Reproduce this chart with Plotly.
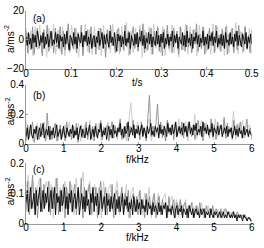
import numpy as np
import plotly.graph_objects as go

# ---------------- data ----------------
a_light = [8,-10,6,-11,9,-7,10,-9,5,-12,8,-6,11,-10,7,-8,9,-11,6,-9,
           10,-7,8,-12,5,-9,11,-8,7,-10,9,-6,8,-11,10,-8,6,-9,11,-7,
           7,-10,9,-8,12,-11,6,-9,8,-7,10,-12,7,-8,9,-10,11,-6,8,-9,
           9,-11,7,-8,10,-9,6,-12,8,-7,11,-10,9,-8,7,-11,10,-6,8,-9,
           6,-10,11,-8,9,-7,8,-11,10,-9,7,-8,12,-10,6,-9,9,-7,8,-10]
a_gray = [6,-9,4,-7,9,-10,3,8,-6,1,-11,7,-4,10,-8,2,5,-9,8,-5,
          -3,9,-10,6,-7,4,11,-8,1,-6,8,-9,5,-4,10,-11,3,-2,7,-9,
          9,-5,2,-10,6,-7,8,-3,4,-12,7,-6,10,-4,1,-9,5,8,-8,3,
          -7,10,-5,6,-10,2,9,-6,4,-8,7,-3,11,-9,5,-7,3,8,-10,6,
          -4,9,-8,2,-11,7,-5,10,-6,4,-9,8,-2,6,-10,9,-7,3,-8,10,
          -5,5,-9,7,-3,11,-8,4,-6,9,-10,2,-7,8,-4,6,-9,10,-6,3,
          -8,7,-5,9,-10,4,-3,8,-9,6,-7,10,-4,5,-8,9,-6,3,-9,7]
a_black = [2,-4,5,-3,1,-6,4,-2,3,-5,6,-1,-4,3,-2,5,-6,2,-3,4,
           -5,1,6,-4,0,-3,5,-2,4,-6,3,-1,2,-5,4,-3,6,-2,-7,3,
           1,-4,5,-3,2,-6,4,0,-2,5,-5,3,-1,6,-4,2,-3,4,-6,1,
           3,-5,2,-2,6,-4,0,5,-6,3,-3,4,-1,-5,6,-2,2,-4,5,-3,
           -8,4,-1,3,-5,2,-3,6,-4,1,-2,5,-6,3,0,-4,4,-3,5,-5,
           2,-1,6,-4,3,-6,1,-2,5,-3,4,-5,2,-1,-4,6,-3,3,-5,4,
           -2,5,-6,1,-3,4,-4,2,-1,6,-5,3,-2,4,-6,2,0,-3,5,-4,
           3,-5,6,-2,1,-4,4,-6,2,-1,5,-3,3,-5,1,-2,6,-4,2,-3,
           4,-6,3,-1,5,-4,2,-2,6,-5,1,-3,4,-4,3,-6,5,-2,0,-4,
           5,-3,2,-5,4,-1,6,-4,3,-2,-5,4,1,-3,5,-6,2,-2,4,-3]

b_light = [0.16,0.05,0.13,0.02,0.11,0.14,0.04,0.09,0.15,0.03,0.12,0.06,0.10,0.14,0.02,0.11,0.05,0.13,0.08,0.15,
           0.03,0.12,0.06,0.14,0.02,0.10,0.13,0.05,0.16,0.03,0.11,0.07,0.14,0.02,0.12,0.09,0.15,0.04,0.11,0.13,
           0.03,0.16,0.06,0.12,0.02,0.14,0.28,0.05,0.11,0.15,0.03,0.13,0.07,0.10,0.17,0.02,0.12,0.05,0.15,0.08,
           0.13,0.03,0.16,0.06,0.11,0.14,0.04,0.17,0.05,0.12,0.15,0.02,0.13,0.08,0.20,0.04,0.11,0.16,0.05,0.14,
           0.07,0.12,0.03,0.17,0.05,0.13,0.09,0.15,0.04,0.12,0.06,0.22,0.03,0.14,0.08,0.16,0.04,0.11,0.13,0.05]
b_gray = [0.02,0.13,0.04,0.10,0.15,0.01,0.09,0.12,0.03,0.14,0.06,0.11,0.02,0.21,0.05,0.12,0.03,0.10,0.14,0.02,
          0.08,0.13,0.04,0.11,0.02,0.15,0.06,0.09,0.03,0.12,0.05,0.14,0.01,0.10,0.13,0.04,0.08,0.15,0.03,0.11,
          0.06,0.12,0.02,0.14,0.05,0.09,0.16,0.03,0.11,0.07,0.13,0.02,0.10,0.15,0.04,0.12,0.06,0.09,0.17,0.03,
          0.11,0.05,0.14,0.02,0.12,0.08,0.16,0.04,0.10,0.13,0.03,0.15,0.06,0.11,0.02,0.18,0.33,0.05,0.12,0.09,
          0.14,0.27,0.06,0.15,0.04,0.12,0.02,0.16,0.07,0.10,0.13,0.03,0.14,0.05,0.11,0.08,0.15,0.04,0.12,0.06,
          0.15,0.09,0.05,0.13,0.03,0.10,0.16,0.06,0.12,0.02,0.14,0.08,0.11,0.04,0.17,0.06,0.13,0.03,0.15,0.09,
          0.12,0.05,0.18,0.04,0.14,0.07,0.11,0.03,0.16,0.06,0.13,0.09,0.15,0.04,0.12,0.08,0.17,0.05,0.11,0.03]
b_black = [0.05,0.11,0.03,0.09,0.13,0.06,0.04,0.10,0.07,0.12,0.03,0.08,0.11,0.05,0.09,0.14,0.04,0.07,0.10,0.06,
           0.12,0.03,0.09,0.06,0.11,0.04,0.08,0.13,0.05,0.07,0.10,0.03,0.09,0.12,0.06,0.04,0.11,0.08,0.05,0.10,
           0.07,0.13,0.04,0.09,0.06,0.11,0.03,0.08,0.12,0.05,0.10,0.07,0.04,0.11,0.06,0.09,0.13,0.03,0.08,0.10,
           0.05,0.12,0.07,0.04,0.10,0.08,0.14,0.05,0.09,0.06,0.11,0.03,0.08,0.12,0.06,0.10,0.04,0.13,0.07,0.09,
           0.05,0.11,0.08,0.14,0.06,0.10,0.04,0.12,0.07,0.09,0.15,0.05,0.08,0.11,0.06,0.13,0.04,0.10,0.07,0.12,
           0.06,0.09,0.13,0.05,0.11,0.08,0.04,0.12,0.07,0.10,0.14,0.06,0.09,0.05,0.12,0.08,0.11,0.04,0.13,0.07,
           0.10,0.06,0.12,0.09,0.05,0.14,0.08,0.11,0.06,0.13,0.07,0.10,0.15,0.05,0.09,0.12,0.07,0.11,0.06,0.14,
           0.08,0.12,0.05,0.10,0.15,0.07,0.11,0.06,0.13,0.09,0.14,0.06,0.10,0.08,0.12,0.05,0.15,0.09,0.11,0.07,
           0.13,0.06,0.10,0.08,0.14,0.05,0.11,0.09,0.07,0.12,0.06,0.10,0.13,0.05,0.09,0.11,0.07,0.12,0.05,0.10,
           0.08,0.11,0.04,0.09,0.12,0.06,0.10,0.05,0.11,0.07,0.09,0.04,0.12,0.06,0.08,0.10,0.05,0.09,0.07,0.06]

c_light = [0.12,0.16,0.05,0.14,0.03,0.12,0.15,0.04,0.11,0.14,0.06,0.13,0.02,0.15,0.07,0.12,0.04,0.14,0.10,0.05,
           0.13,0.03,0.15,0.06,0.12,0.17,0.04,0.11,0.14,0.03,0.13,0.08,0.12,0.02,0.14,0.05,0.11,0.13,0.04,0.10,
           0.14,0.03,0.11,0.06,0.13,0.02,0.10,0.12,0.04,0.09,0.11,0.03,0.10,0.06,0.12,0.02,0.09,0.05,0.10,0.03,
           0.08,0.10,0.02,0.07,0.09,0.04,0.08,0.02,0.07,0.05,0.08,0.02,0.06,0.07,0.03,0.06,0.04,0.07,0.02,0.05,
           0.06,0.03,0.05,0.04,0.05,0.02,0.04,0.05,0.02,0.04,0.03,0.04,0.02,0.03,0.03,0.02,0.03,0.02,0.02,0.01]
c_gray = [0.04,0.14,0.03,0.11,0.16,0.05,0.12,0.02,0.10,0.15,0.04,0.13,0.06,0.09,0.14,0.03,0.12,0.05,0.10,0.15,
          0.03,0.11,0.06,0.13,0.02,0.12,0.05,0.14,0.04,0.10,0.13,0.03,0.11,0.07,0.15,0.02,0.12,0.05,0.10,0.13,
          0.03,0.11,0.06,0.12,0.02,0.10,0.14,0.04,0.09,0.12,0.03,0.10,0.05,0.13,0.02,0.09,0.11,0.04,0.08,0.12,
          0.03,0.10,0.05,0.11,0.02,0.08,0.10,0.04,0.09,0.03,0.11,0.05,0.08,0.02,0.10,0.06,0.09,0.03,0.08,0.10,
          0.02,0.07,0.09,0.03,0.08,0.05,0.07,0.02,0.09,0.04,0.06,0.08,0.02,0.07,0.05,0.08,0.03,0.06,0.07,0.02,
          0.06,0.04,0.07,0.02,0.05,0.06,0.03,0.07,0.04,0.05,0.02,0.06,0.04,0.05,0.03,0.06,0.02,0.05,0.04,0.03,
          0.05,0.02,0.04,0.05,0.03,0.04,0.02,0.04,0.03,0.02,0.04,0.03,0.02,0.03,0.02,0.03,0.01,0.02,0.02,0.01]
c_black = [0.07,0.11,0.04,0.09,0.12,0.05,0.08,0.10,0.03,0.11,0.06,0.09,0.12,0.04,0.08,0.11,0.05,0.10,0.07,0.12,
           0.04,0.09,0.11,0.05,0.08,0.12,0.03,0.10,0.07,0.09,0.04,0.11,0.06,0.08,0.12,0.05,0.09,0.03,0.10,0.07,
           0.11,0.04,0.08,0.10,0.05,0.09,0.12,0.03,0.07,0.10,0.05,0.09,0.04,0.11,0.06,0.08,0.03,0.10,0.07,0.12,
           0.04,0.09,0.06,0.10,0.03,0.08,0.11,0.05,0.07,0.09,0.03,0.10,0.06,0.08,0.04,0.09,0.05,0.07,0.10,0.03,
           0.08,0.05,0.09,0.04,0.07,0.10,0.03,0.08,0.06,0.09,0.04,0.07,0.05,0.08,0.03,0.09,0.06,0.04,0.08,0.05,
           0.07,0.03,0.08,0.05,0.06,0.04,0.08,0.03,0.07,0.05,0.06,0.03,0.07,0.04,0.06,0.05,0.03,0.07,0.04,0.06,
           0.03,0.06,0.05,0.07,0.02,0.06,0.04,0.05,0.03,0.06,0.04,0.02,0.05,0.06,0.03,0.05,0.04,0.06,0.02,0.05,
           0.04,0.03,0.05,0.02,0.06,0.04,0.03,0.05,0.02,0.04,0.05,0.03,0.04,0.02,0.05,0.03,0.04,0.05,0.02,0.04,
           0.03,0.04,0.02,0.05,0.03,0.02,0.04,0.03,0.04,0.02,0.03,0.04,0.02,0.03,0.04,0.02,0.03,0.02,0.04,0.03,
           0.02,0.03,0.02,0.04,0.02,0.03,0.01,0.03,0.02,0.03,0.02,0.01,0.03,0.02,0.02,0.01,0.02,0.02,0.01,0.01]

t_max = 0.5      # s
f_max = 6        # kHz
a_xticks = [0, 0.1, 0.2, 0.3, 0.4, 0.5]
f_xticks = [0, 1, 2, 3, 4, 5, 6]
a_yticks = [-20, 0, 20]
b_yticks = [0, 0.2, 0.4]
c_yticks = [0, 0.1, 0.2]
panel_labels = ["(a)", "(b)", "(c)"]
x_titles = ["t/s", "f/kHz", "f/kHz"]
y_title = "a/ms<sup>-2</sup>"

colors = ["#c8c8c8", "#8c8c8c", "#000000"]
widths = [0.9, 0.9, 0.9]

W, H = 264, 248
def py(p):
    return 1 - p / H

fig = go.Figure()

panels = [
    ([a_light, a_gray, a_black], t_max, "x", "y"),
    ([b_light, b_gray, b_black], f_max, "x2", "y2"),
    ([c_light, c_gray, c_black], f_max, "x3", "y3"),
]
for series, xmax, xa, ya in panels:
    for vals, col, lw in zip(series, colors, widths):
        n = len(vals)
        xs = np.linspace(0, xmax, n)
        fig.add_trace(go.Scatter(x=xs, y=vals, mode="lines",
                                 line=dict(color=col, width=lw),
                                 xaxis=xa, yaxis=ya, showlegend=False,
                                 hoverinfo="skip"))

xdom = [24 / W, 258.5 / W]
ydoms = [[py(66), py(5)], [py(145), py(83)], [py(229), py(165)]]
axcol = "#999999"
tickfont = dict(family="Liberation Sans, Arial, sans-serif", size=10, color="#000")

def xax(rng, ticks, anchor, standoff=-5):
    return dict(domain=xdom, range=rng, tickvals=ticks, ticks="inside", ticklen=2,
                tickcolor=axcol, showline=True, linecolor=axcol, linewidth=1,
                showgrid=False, zeroline=False, tickfont=tickfont, anchor=anchor,
                ticklabeloverflow="allow", ticklabelstandoff=standoff, fixedrange=True)

def yax(dom, rng, ticks, anchor):
    return dict(domain=dom, range=rng, tickvals=ticks, ticks="inside", ticklen=2,
                tickcolor=axcol, showline=True, linecolor=axcol, linewidth=1,
                showgrid=False, zeroline=False, tickfont=tickfont, anchor=anchor,
                ticklabeloverflow="allow", ticklabelstandoff=-1, fixedrange=True)

fig.update_layout(
    width=W, height=H,
    margin=dict(l=0, r=0, t=0, b=0),
    paper_bgcolor="white", plot_bgcolor="white",
    xaxis=xax([0, t_max], a_xticks, "y"),
    xaxis2=xax([0, f_max], f_xticks, "y2"),
    xaxis3=xax([0, f_max], f_xticks, "y3", standoff=-6),
    yaxis=yax(ydoms[0], [-20, 20], a_yticks, "x"),
    yaxis2=yax(ydoms[1], [0, 0.4], b_yticks, "x2"),
    yaxis3=yax(ydoms[2], [0, 0.2], c_yticks, "x3"),
)

ann_font = dict(family="Liberation Sans, Arial, sans-serif", size=10, color="#000")
label_pos = [(37, 13), (37, 94), (37, 172)]
xt_pos = [(140, 80.5), (140, 161.5), (140, 243.5)]
yt_pos = [(7, 35), (7, 111), (7, 195)]
for lab, (lx, ly) in zip(panel_labels, label_pos):
    fig.add_annotation(x=lx / W, y=py(ly), xref="paper", yref="paper", text=lab,
                       showarrow=False, font=ann_font, xanchor="center", yanchor="middle")
for lab, (lx, ly) in zip(x_titles, xt_pos):
    fig.add_annotation(x=lx / W, y=py(ly), xref="paper", yref="paper", text=lab,
                       showarrow=False, font=ann_font, xanchor="center", yanchor="middle",
                       borderpad=0)
for (lx, ly) in yt_pos:
    fig.add_annotation(x=lx / W, y=py(ly), xref="paper", yref="paper", text=y_title,
                       showarrow=False, font=ann_font, textangle=-90,
                       xanchor="center", yanchor="middle")

fig.write_html("out.html", config={"displayModeBar": False},
               post_script="document.body.style.margin='0';document.body.style.overflow='hidden';")
